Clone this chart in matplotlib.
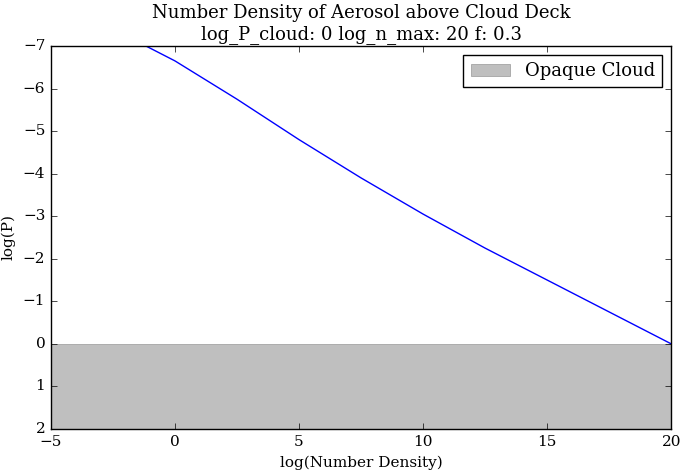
import matplotlib
matplotlib.use("Agg")
import matplotlib.pyplot as plt

plt.style.use("classic")
plt.rcParams['font.family'] = ['DejaVu Serif']

log_n = [-1.17, 0.0, 2.5, 5.0, 7.5, 10.0, 12.5, 15.0, 17.5, 20.0]
log_p = [-7.0, -6.65, -5.75, -4.8, -3.9, -3.05, -2.25, -1.5, -0.75, 0.0]
cloud_top = 0
cloud_bottom = 2

fig, ax = plt.subplots(figsize=(6.87, 4.74), dpi=100)
fig.patch.set_facecolor("white")
ax.plot(log_n, log_p, color="blue", lw=1)
ax.fill_between([-5, 20], cloud_top, cloud_bottom, color="#bfbfbf", edgecolor="#999999", lw=0.5, label="Opaque Cloud")
ax.set_xlim(-5, 20)
ax.set_ylim(2, -7)
ax.set_xlabel("log(Number Density)", fontsize=11)
ax.set_ylabel("log(P)", fontsize=11)
ax.set_title("Number Density of Aerosol above Cloud Deck\nlog_P_cloud: 0 log_n_max: 20 f: 0.3", fontsize=13)
ax.tick_params(labelsize=11)
ax.legend(loc="upper right", fontsize=13, handlelength=2.2)
fig.subplots_adjust(left=0.074, right=0.977, top=0.903, bottom=0.095)
fig.savefig("out.png", dpi=100, facecolor="white")
